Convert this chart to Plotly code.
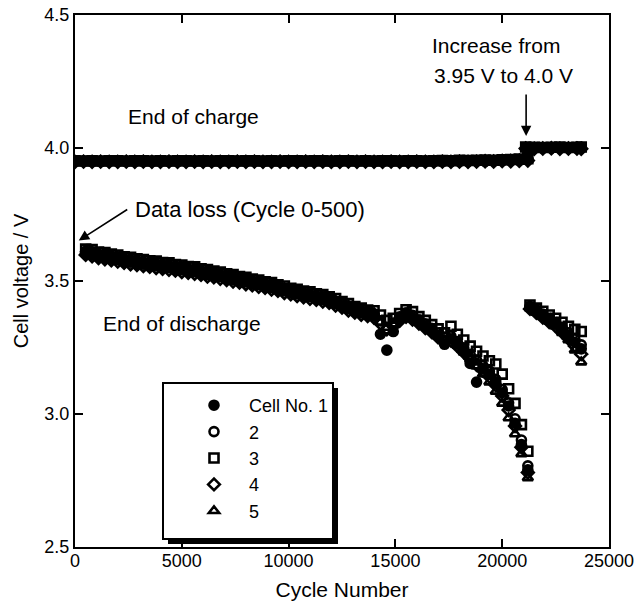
import plotly.graph_objects as go

# ---------------- data ----------------
charge_cycles_pre = [0, 400, 800, 1200, 1600, 2000, 2400, 2800, 3200, 3600,
                     4000, 4400, 4800, 5200, 5600, 6000, 6400, 6800, 7200, 7600,
                     8000, 8400, 8800, 9200, 9600, 10000, 10400, 10800, 11200, 11600,
                     12000, 12400, 12800, 13200, 13600, 14000, 14400, 14800, 15200, 15600,
                     16000, 16400, 16800, 17200, 17600, 18000, 18400, 18800, 19200, 19600,
                     20000, 20400, 20800, 21200]
charge_cycles_post = [21100, 21500, 21900, 22300, 22700, 23100, 23500, 23700]

discharge_cycles_pre = [500, 800, 1100, 1400, 1700, 2000, 2300, 2600, 2900, 3200,
                        3500, 3800, 4100, 4400, 4700, 5000, 5300, 5600, 5900, 6200,
                        6500, 6800, 7100, 7400, 7700, 8000, 8300, 8600, 8900, 9200,
                        9500, 9800, 10100, 10400, 10700, 11000, 11300, 11600, 11900, 12200,
                        12500, 12800, 13100, 13400, 13700, 14000, 14300, 14600, 14900, 15200,
                        15500, 15800, 16100, 16400, 16700, 17000, 17300, 17600, 17900, 18200,
                        18500, 18800, 19100, 19400, 19700, 20000, 20300, 20600, 20900, 21200]
discharge_cycles_post = [21300, 21600, 21900, 22200, 22500, 22800, 23100, 23400, 23700]

cell_names = ["Cell No. 1", "2", "3", "4", "5"]

charge_pre = {
    1: [3.950, 3.951, 3.949, 3.950, 3.950, 3.951, 3.949, 3.950, 3.951, 3.950,
        3.949, 3.950, 3.951, 3.950, 3.950, 3.949, 3.951, 3.950, 3.950, 3.951,
        3.949, 3.950, 3.950, 3.951, 3.950, 3.949, 3.950, 3.951, 3.950, 3.950,
        3.949, 3.951, 3.950, 3.950, 3.951, 3.950, 3.949, 3.950, 3.951, 3.950,
        3.950, 3.951, 3.950, 3.949, 3.950, 3.951, 3.950, 3.952, 3.953, 3.951,
        3.954, 3.955, 3.956, 3.958],
    2: [3.951, 3.950, 3.950, 3.949, 3.951, 3.950, 3.950, 3.951, 3.949, 3.950,
        3.951, 3.950, 3.949, 3.950, 3.951, 3.950, 3.950, 3.949, 3.951, 3.950,
        3.950, 3.951, 3.949, 3.950, 3.950, 3.951, 3.949, 3.950, 3.951, 3.950,
        3.950, 3.949, 3.951, 3.950, 3.950, 3.949, 3.951, 3.950, 3.950, 3.951,
        3.949, 3.950, 3.951, 3.950, 3.951, 3.950, 3.952, 3.951, 3.950, 3.953,
        3.952, 3.954, 3.953, 3.957],
    3: [3.952, 3.951, 3.952, 3.951, 3.952, 3.952, 3.951, 3.952, 3.952, 3.951,
        3.952, 3.951, 3.952, 3.952, 3.951, 3.952, 3.951, 3.952, 3.952, 3.951,
        3.952, 3.952, 3.951, 3.952, 3.951, 3.952, 3.952, 3.951, 3.952, 3.952,
        3.951, 3.952, 3.952, 3.951, 3.952, 3.951, 3.952, 3.952, 3.951, 3.952,
        3.952, 3.951, 3.952, 3.953, 3.952, 3.954, 3.953, 3.954, 3.955, 3.954,
        3.956, 3.957, 3.958, 3.960],
    4: [3.948, 3.949, 3.948, 3.949, 3.948, 3.948, 3.949, 3.948, 3.949, 3.948,
        3.948, 3.949, 3.948, 3.948, 3.949, 3.948, 3.949, 3.948, 3.948, 3.949,
        3.948, 3.949, 3.948, 3.948, 3.949, 3.948, 3.948, 3.949, 3.948, 3.949,
        3.948, 3.948, 3.949, 3.948, 3.949, 3.948, 3.948, 3.949, 3.948, 3.948,
        3.949, 3.948, 3.948, 3.949, 3.948, 3.949, 3.948, 3.949, 3.950, 3.949,
        3.951, 3.950, 3.952, 3.953],
    5: [3.950, 3.950, 3.951, 3.950, 3.949, 3.950, 3.950, 3.951, 3.950, 3.949,
        3.950, 3.950, 3.951, 3.949, 3.950, 3.950, 3.951, 3.950, 3.949, 3.950,
        3.951, 3.950, 3.950, 3.949, 3.951, 3.950, 3.950, 3.951, 3.949, 3.950,
        3.951, 3.950, 3.949, 3.950, 3.951, 3.950, 3.950, 3.949, 3.951, 3.950,
        3.950, 3.951, 3.949, 3.950, 3.951, 3.952, 3.951, 3.950, 3.952, 3.953,
        3.952, 3.955, 3.954, 3.956],
}

charge_post = {
    1: [4.002, 4.000, 4.001, 3.999, 4.000, 4.001, 4.000, 3.999],
    2: [4.000, 4.001, 3.999, 4.000, 4.002, 4.000, 3.999, 4.001],
    3: [4.004, 4.003, 4.002, 4.003, 4.004, 4.002, 4.003, 4.004],
    4: [3.998, 3.997, 3.998, 3.999, 3.997, 3.998, 3.998, 3.997],
    5: [4.001, 3.999, 4.000, 4.001, 3.999, 4.000, 4.001, 4.000],
}

discharge_pre = {
    1: [3.604, 3.600, 3.591, 3.589, 3.583, 3.580, 3.573, 3.571, 3.565, 3.563,
        3.558, 3.557, 3.551, 3.550, 3.544, 3.542, 3.536, 3.535, 3.528, 3.525,
        3.519, 3.516, 3.509, 3.506, 3.499, 3.496, 3.489, 3.486, 3.479, 3.476,
        3.468, 3.463, 3.455, 3.451, 3.444, 3.441, 3.434, 3.431, 3.423, 3.416,
        3.405, 3.397, 3.386, 3.380, 3.372, 3.368, 3.300, 3.240, 3.310, 3.355,
        3.372, 3.360, 3.346, 3.328, 3.314, 3.294, 3.262, 3.282, 3.262, 3.236,
        3.190, 3.120, 3.170, 3.150, 3.118, 3.080, 3.030, 2.965, 2.885, 2.790],
    2: [3.612, 3.607, 3.600, 3.596, 3.593, 3.587, 3.583, 3.578, 3.575, 3.570,
        3.568, 3.564, 3.561, 3.557, 3.554, 3.549, 3.546, 3.542, 3.538, 3.532,
        3.529, 3.523, 3.519, 3.513, 3.509, 3.503, 3.499, 3.493, 3.489, 3.483,
        3.478, 3.470, 3.465, 3.458, 3.454, 3.448, 3.444, 3.438, 3.433, 3.423,
        3.415, 3.404, 3.396, 3.388, 3.383, 3.377, 3.350, 3.320, 3.342, 3.365,
        3.380, 3.371, 3.354, 3.339, 3.322, 3.305, 3.289, 3.293, 3.272, 3.249,
        3.224, 3.203, 3.182, 3.161, 3.130, 3.092, 3.042, 2.982, 2.902, 2.805],
    3: [3.620, 3.618, 3.609, 3.607, 3.601, 3.598, 3.591, 3.589, 3.583, 3.581,
        3.576, 3.575, 3.569, 3.568, 3.562, 3.560, 3.554, 3.553, 3.546, 3.543,
        3.537, 3.534, 3.527, 3.524, 3.517, 3.514, 3.507, 3.504, 3.497, 3.494,
        3.486, 3.481, 3.473, 3.469, 3.462, 3.459, 3.452, 3.449, 3.441, 3.434,
        3.423, 3.415, 3.404, 3.398, 3.391, 3.388, 3.372, 3.352, 3.360, 3.378,
        3.392, 3.385, 3.366, 3.352, 3.336, 3.320, 3.305, 3.330, 3.300, 3.278,
        3.255, 3.236, 3.218, 3.200, 3.188, 3.150, 3.095, 3.040, 2.960, 2.860],
    4: [3.598, 3.593, 3.586, 3.582, 3.578, 3.573, 3.568, 3.563, 3.560, 3.556,
        3.553, 3.549, 3.546, 3.542, 3.539, 3.534, 3.531, 3.527, 3.523, 3.517,
        3.514, 3.508, 3.504, 3.498, 3.494, 3.488, 3.484, 3.478, 3.474, 3.468,
        3.463, 3.455, 3.450, 3.443, 3.439, 3.433, 3.429, 3.423, 3.418, 3.408,
        3.400, 3.389, 3.381, 3.373, 3.368, 3.362, 3.340, 3.318, 3.330, 3.350,
        3.365, 3.355, 3.340, 3.323, 3.308, 3.288, 3.272, 3.276, 3.255, 3.232,
        3.208, 3.185, 3.163, 3.140, 3.108, 3.068, 3.015, 2.955, 2.875, 2.780],
    5: [3.615, 3.611, 3.603, 3.600, 3.595, 3.592, 3.585, 3.583, 3.577, 3.575,
        3.570, 3.569, 3.563, 3.562, 3.556, 3.554, 3.548, 3.547, 3.540, 3.537,
        3.531, 3.528, 3.521, 3.518, 3.511, 3.508, 3.501, 3.498, 3.491, 3.488,
        3.480, 3.474, 3.467, 3.462, 3.456, 3.452, 3.446, 3.442, 3.435, 3.427,
        3.417, 3.408, 3.398, 3.391, 3.385, 3.380, 3.345, 3.325, 3.338, 3.360,
        3.374, 3.363, 3.345, 3.330, 3.312, 3.292, 3.276, 3.280, 3.258, 3.232,
        3.205, 3.180, 3.150, 3.120, 3.085, 3.040, 2.985, 2.925, 2.850, 2.760],
}

discharge_post = {
    1: [3.400, 3.385, 3.370, 3.352, 3.338, 3.318, 3.295, 3.270, 3.245],
    2: [3.405, 3.392, 3.376, 3.360, 3.345, 3.326, 3.305, 3.282, 3.260],
    3: [3.410, 3.398, 3.386, 3.372, 3.360, 3.345, 3.330, 3.318, 3.310],
    4: [3.395, 3.380, 3.363, 3.346, 3.330, 3.308, 3.284, 3.256, 3.225],
    5: [3.398, 3.382, 3.366, 3.348, 3.330, 3.306, 3.278, 3.240, 3.195],
}

x_ticks = [0, 5000, 10000, 15000, 20000, 25000]
y_ticks = [2.5, 3.0, 3.5, 4.0, 4.5]
y_tick_labels = ["2.5", "3.0", "3.5", "4.0", "4.5"]

# ---------------- style ----------------
FONT = "Liberation Sans, Arial, Helvetica, sans-serif"
symbols = {1: "circle", 2: "circle-open", 3: "square-open", 4: "diamond-open", 5: "triangle-up-open"}

fig = go.Figure()
for i in range(1, 6):
    xs = charge_cycles_pre + charge_cycles_post + discharge_cycles_pre + discharge_cycles_post
    ys = charge_pre[i] + charge_post[i] + discharge_pre[i] + discharge_post[i]
    fig.add_trace(go.Scatter(
        x=xs, y=ys, mode="markers", name=cell_names[i - 1],
        legendgroup=str(i),
        marker=dict(symbol=symbols[i], size=9, color="black",
                    line=dict(color="black", width=2.6)),
    ))

W, H = 634, 608
L, R, T, B = 75, 25, 15, 61
pw, ph = W - L - R, H - T - B

def px_x(p):
    return (p - L) / pw

def px_y(p):
    return (H - B - p) / ph

box_l, box_r, box_t, box_b = 163, 333, 383, 539
sh = 5
shapes = [
    # legend box
    dict(type="rect", xref="paper", yref="paper",
         x0=px_x(box_l), x1=px_x(box_r), y0=px_y(box_b), y1=px_y(box_t),
         fillcolor="white", line=dict(color="black", width=2), layer="above"),
    # legend shadow: right strip
    dict(type="rect", xref="paper", yref="paper",
         x0=px_x(box_r), x1=px_x(box_r + sh), y0=px_y(box_b + sh), y1=px_y(box_t + sh),
         fillcolor="black", line=dict(width=0), layer="above"),
    # legend shadow: bottom strip
    dict(type="rect", xref="paper", yref="paper",
         x0=px_x(box_l + sh), x1=px_x(box_r + sh), y0=px_y(box_b + sh), y1=px_y(box_b),
         fillcolor="black", line=dict(width=0), layer="above"),
]

ann_font = dict(family=FONT, size=21, color="black")
annotations = [
    dict(x=5535, y=4.117, text="End of charge", showarrow=False, font=ann_font,
         xanchor="center", yanchor="middle"),
    dict(x=2700, y=3.768, text="Data loss (Cycle 0-500)", showarrow=False,
         font=dict(family=FONT, size=22, color="black"),
         xanchor="left", yanchor="middle"),
    dict(x=175, y=3.652, text="", showarrow=True, ax=50, ay=-32,
         arrowhead=2, arrowsize=1.3, arrowwidth=1.6, arrowcolor="black"),
    dict(x=19720, y=4.387, text="Increase from", showarrow=False, font=ann_font,
         xanchor="center", yanchor="middle"),
    dict(x=20050, y=4.274, text="3.95 V to 4.0 V", showarrow=False, font=ann_font,
         xanchor="center", yanchor="middle"),
    dict(x=21120, y=4.045, text="", showarrow=True, ax=0, ay=-43,
         arrowhead=2, arrowsize=1.3, arrowwidth=1.6, arrowcolor="black"),
    dict(x=5000, y=3.342, text="End of discharge", showarrow=False, font=ann_font,
         xanchor="center", yanchor="middle"),
]

fig.update_layout(
    width=W, height=H,
    margin=dict(l=L, r=R, t=T, b=B, autoexpand=False),
    paper_bgcolor="white", plot_bgcolor="white",
    font=dict(family=FONT, color="black"),
    showlegend=True,
    legend=dict(x=px_x(179), y=px_y(387), xanchor="left", yanchor="top",
                bgcolor="rgba(0,0,0,0)", borderwidth=0,
                font=dict(family=FONT, size=18, color="black"),
                itemwidth=60, traceorder="normal", tracegroupgap=0),
    shapes=shapes,
    annotations=annotations,
)

fig.update_xaxes(
    range=[0, 25000], tickvals=x_ticks, ticktext=[str(v) for v in x_ticks],
    ticks="inside", ticklen=8, tickwidth=2, tickcolor="black",
    showline=True, linewidth=2, linecolor="black", mirror="ticks",
    showgrid=False, zeroline=False, ticklabelstandoff=-4,
    ticklabeloverflow="allow",
    tickfont=dict(family=FONT, size=18, color="black"),
    title=dict(text="Cycle Number", font=dict(family=FONT, size=21, color="black"), standoff=13),
)
fig.update_yaxes(
    range=[2.5, 4.5], tickvals=y_ticks, ticktext=y_tick_labels,
    ticks="inside", ticklen=8, tickwidth=2, tickcolor="black",
    showline=True, linewidth=2, linecolor="black", mirror="ticks",
    showgrid=False, zeroline=False,
    tickfont=dict(family=FONT, size=18, color="black"),
    title=dict(text="Cell voltage / V", font=dict(family=FONT, size=20, color="black"), standoff=10),
)

fig.write_html("out.html")
